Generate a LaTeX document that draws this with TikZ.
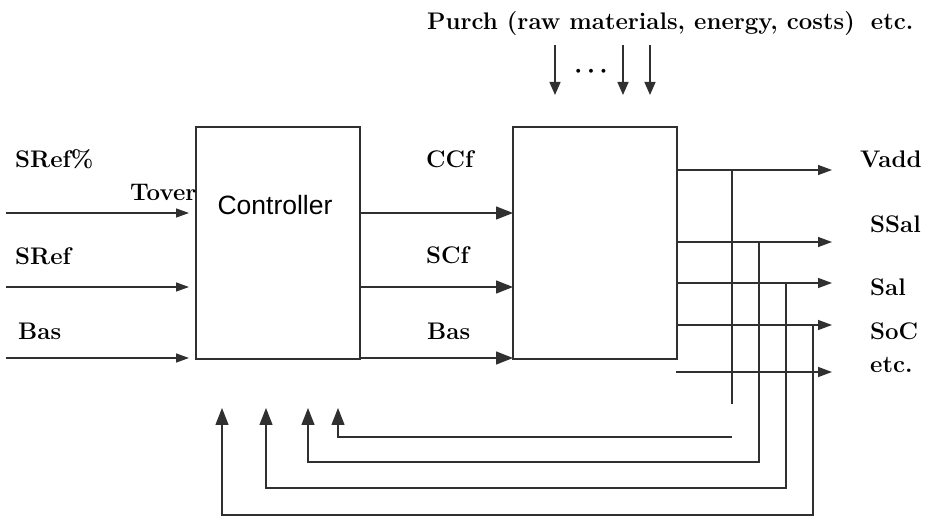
\documentclass[tikz,border=0pt]{standalone}
\usepackage{fontspec}
\newfontfamily\ctrlfont{Liberation Sans}
\usetikzlibrary{arrows.meta}
\definecolor{lncol}{HTML}{303030}
\begin{document}
\begin{tikzpicture}[x=1pt,y=-1pt,
  ln/.style={line width=1.4pt, draw=lncol, line join=miter},
  blk/.style={draw=lncol, line width=1.6pt, minimum width=164pt, minimum height=232pt, inner sep=0pt, outer sep=0pt},
  lbl/.style={font=\fontsize{24}{28}\selectfont\bfseries, anchor=base west, inner sep=0pt},
  sarrow/.style={ln, -{Triangle[length=13pt,width=9pt]}},
  marrow/.style={ln, -{Triangle[length=17pt,width=13pt]}},
  oarrow/.style={ln, -{Triangle[length=14pt,width=10pt]}},
  darrow/.style={ln, -{Triangle[length=13pt,width=11pt]}},
  farrow/.style={ln, -{Triangle[length=17pt,width=13pt]}}]
\useasboundingbox (0,0) rectangle (940,518);
% blocks
\node[blk] (ctrl) at (278,243) {};
\node[font=\ctrlfont\fontsize{26.5}{30}\selectfont, anchor=base, inner sep=0pt] (ctrltxt) at (275,215) {Controller};
\node[blk] (proc) at (595,243) {};
% purchase inputs
\node[lbl] (purch) at (427,30) {Purch (raw materials, energy, costs)\hspace{0.3em} etc.};
\coordinate (p1) at (555,45); \coordinate (p2) at (623,45); \coordinate (p3) at (650,45);
\coordinate (q) at (0,95);
\draw[darrow] (p1) -- (p1 |- q);
\draw[darrow] (p2) -- (p2 |- q);
\draw[darrow] (p3) -- (p3 |- q);
\node[font=\fontsize{30}{34}\selectfont\boldmath, inner sep=0pt] (dots) at (591,72) {$\cdots$};
% inputs to controller
\coordinate (i1) at (6,213); \coordinate (i2) at (6,287); \coordinate (i3) at (6,358);
\draw[sarrow, shorten >=7pt] (i1) -- (ctrl.west |- i1);
\draw[sarrow, shorten >=7pt] (i2) -- (ctrl.west |- i2);
\draw[sarrow, shorten >=7pt] (i3) -- (ctrl.west |- i3);
\node[lbl] (sref1) at (15,168) {SRef\%};
\node[lbl] (tover) at (130,201) {Tover};
\node[lbl] (sref2) at (15,265) {SRef};
\node[lbl] (bas1) at (18,340) {Bas};
% controller to process
\draw[marrow] (ctrl.east |- i1) -- (proc.west |- i1);
\draw[marrow] (ctrl.east |- i2) -- (proc.west |- i2);
\draw[marrow] (ctrl.east |- i3) -- (proc.west |- i3);
\node[lbl] (ccf) at (426,168) {CCf};
\node[lbl] (scf) at (426,264) {SCf};
\node[lbl] (bas2) at (427,340) {Bas};
% outputs
\coordinate (o1) at (832,170); \coordinate (o2) at (832,242); \coordinate (o3) at (832,283);
\coordinate (o4) at (832,325); \coordinate (o5) at (832,372); \coordinate (e5) at (676,372);
\draw[oarrow] (proc.east |- o1) -- (o1);
\draw[oarrow] (proc.east |- o2) -- (o2);
\draw[oarrow] (proc.east |- o3) -- (o3);
\draw[oarrow] (proc.east |- o4) -- (o4);
\draw[oarrow] (e5) -- (o5);
\node[lbl] (vadd) at (860,168) {Vadd};
\node[lbl] (ssal) at (870,233) {SSal};
\node[lbl] (sal) at (870,296) {Sal};
\node[lbl] (soc) at (870,340) {SoC};
\node[lbl] (etc) at (870,373) {etc.};
% feedback
\coordinate (v1) at (732,404);
\draw[ln] (v1 |- o1) -- (v1);
\coordinate (h1) at (732,437); \coordinate (a1) at (338,408);
\draw[farrow] (h1) -- (a1 |- h1) -- (a1);
\coordinate (v2) at (759,462); \coordinate (a2) at (308,408);
\draw[farrow] (v2 |- o2) -- (v2) -- (a2 |- v2) -- (a2);
\coordinate (v3) at (786,488); \coordinate (a3) at (266,408);
\draw[farrow] (v3 |- o3) -- (v3) -- (a3 |- v3) -- (a3);
\coordinate (v4) at (813,515); \coordinate (a4) at (222,408);
\draw[farrow] (v4 |- o4) -- (v4) -- (a4 |- v4) -- (a4);
\end{tikzpicture}
\end{document}
